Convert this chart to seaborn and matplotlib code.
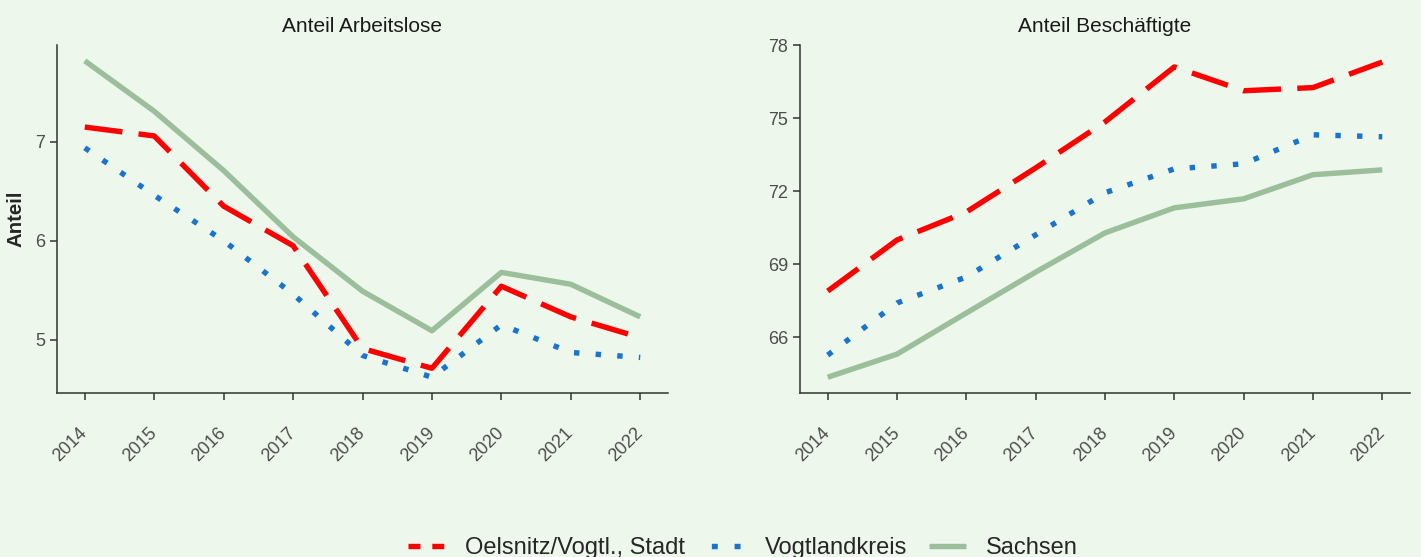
import numpy as np
import pandas as pd
import matplotlib
matplotlib.use("Agg")
import matplotlib.pyplot as plt
import seaborn as sns
from matplotlib.lines import Line2D

# Jahre und Regionen
jahre = [2014, 2015, 2016, 2017, 2018, 2019, 2020, 2021, 2022]
regionen = ["Oelsnitz/Vogtl., Stadt", "Vogtlandkreis", "Sachsen"]

# Anteil Arbeitslose (in %)
alo_oelsnitz = [7.15, 7.06, 6.35, 5.95, 4.91, 4.71, 5.54, 5.23, 5.02]
alo_vogtland = [6.94, 6.46, 6.00, 5.46, 4.84, 4.62, 5.15, 4.87, 4.82]
alo_sachsen = [7.82, 7.31, 6.71, 6.04, 5.49, 5.09, 5.68, 5.56, 5.23]

# Anteil Beschaeftigte (in %)
besch_oelsnitz = [67.89, 69.99, 71.14, 72.95, 74.84, 77.10, 76.12, 76.25, 77.30]
besch_vogtland = [65.26, 67.40, 68.47, 70.20, 71.93, 72.91, 73.12, 74.31, 74.23]
besch_sachsen = [64.35, 65.30, 66.99, 68.67, 70.28, 71.31, 71.68, 72.67, 72.87]

farben = {"Oelsnitz/Vogtl., Stadt": "#FF0000",
          "Vogtlandkreis": "#1874CD",
          "Sachsen": "#9BBF9B"}
striche = {"Oelsnitz/Vogtl., Stadt": (7, 3),
           "Vogtlandkreis": (1, 3),
           "Sachsen": ""}
# kuerzere Muster fuer die Legendensymbole
legenden_striche = {"Oelsnitz/Vogtl., Stadt": (0, (2.2, 2.2)),
                    "Vogtlandkreis": (-0.8, (1.1, 3.1)),
                    "Sachsen": "-"}

bg = "#EEF7EC"


def long_df(werte):
    rows = []
    for reg, vals in zip(regionen, werte):
        for j, v in zip(jahre, vals):
            rows.append({"Jahr": j, "Anteil": v, "Region": reg})
    return pd.DataFrame(rows)


df_alo = long_df([alo_oelsnitz, alo_vogtland, alo_sachsen])
df_besch = long_df([besch_oelsnitz, besch_vogtland, besch_sachsen])

sns.set_style("ticks")
plt.rcParams["font.family"] = ["Liberation Sans", "DejaVu Sans"]

fig = plt.figure(figsize=(14.21, 5.57), dpi=100, facecolor=bg)
ax1 = fig.add_axes([57 / 1421, 1 - 393 / 557, 611 / 1421, 348 / 557])
ax2 = fig.add_axes([800 / 1421, 1 - 393 / 557, 610 / 1421, 348 / 557])

for ax, df, titel, yticks in [(ax1, df_alo, "Anteil Arbeitslose", [5, 6, 7]),
                              (ax2, df_besch, "Anteil Beschäftigte", [66, 69, 72, 75, 78])]:
    ax.set_facecolor(bg)
    sns.lineplot(data=df, x="Jahr", y="Anteil", hue="Region", style="Region",
                 hue_order=regionen[::-1], style_order=regionen[::-1],
                 palette=farben, dashes=striche, linewidth=3.9, ax=ax, legend=False)
    for ln in ax.get_lines():
        ln.set_dash_capstyle("butt")
        ln.set_solid_capstyle("butt")
    ax.set_xlim(2013.6, 2022.4)
    lo = df["Anteil"].min()
    hi = df["Anteil"].max()
    pad = (hi - lo) * 0.05
    ax.set_ylim(lo - pad, hi + pad)
    ax.set_xticks(jahre)
    ax.set_xticklabels([str(j) for j in jahre], rotation=45, ha="right", va="center",
                       rotation_mode="anchor")
    ax.set_yticks(yticks)
    ax.tick_params(axis="both", colors="#333333", labelcolor="#4D4D4D", labelsize=13,
                   length=5, width=1.1)
    ax.tick_params(axis="x", pad=22)
    ax.tick_params(axis="y", pad=3.5)
    for side in ["top", "right"]:
        ax.spines[side].set_visible(False)
    for side in ["left", "bottom"]:
        ax.spines[side].set_color("#333333")
        ax.spines[side].set_linewidth(1.1)
    ax.set_title(titel, fontsize=15, color="#1A1A1A", pad=9)
    ax.set_xlabel("")
    ax.set_ylabel("")

ax1.set_ylabel("Anteil", fontsize=14.7, fontweight="bold", labelpad=7)

handles = [Line2D([], [], color=farben[r], linewidth=3.9,
                  linestyle=legenden_striche[r],
                  dash_capstyle="butt", solid_capstyle="butt") for r in regionen]
fig.legend(handles, regionen, loc="center", bbox_to_anchor=(743 / 1421, 9 / 557), ncol=3,
           frameon=False, fontsize=17, handlelength=1.57, columnspacing=0.95,
           handletextpad=0.85, borderpad=0.1)

fig.savefig("out.png", dpi=100, facecolor=bg)
